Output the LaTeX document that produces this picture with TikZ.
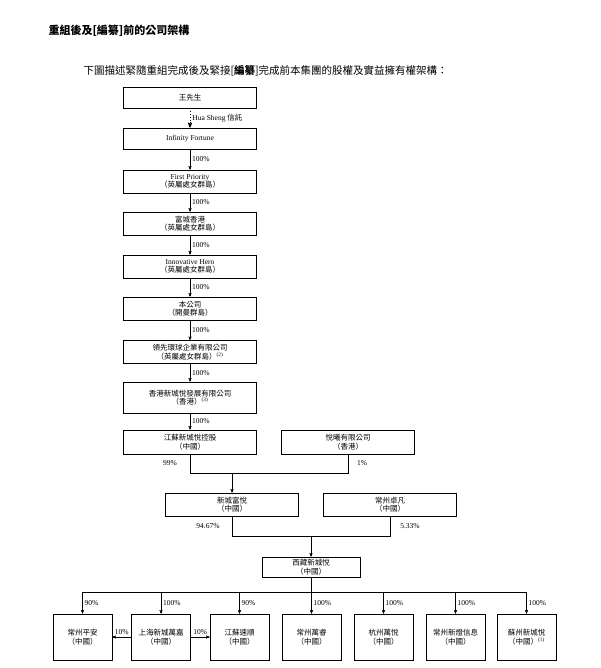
\documentclass[tikz,border=0pt]{standalone}
\usepackage{fontspec}
\setmainfont{Liberation Serif}
\newfontfamily\cjk{Noto Sans CJK TC}
\usetikzlibrary{arrows,positioning}
\newcommand{\zh}[1]{{\cjk #1}}
\newcommand{\nt}[1]{\textsuperscript{(#1)}}

\begin{document}
\begin{tikzpicture}[x=1pt,y=-1pt,>=stealth',font=\fontsize{7.5}{8.5}\selectfont,
    box/.style={draw,thick,align=center,inner sep=1pt},
    chain/.style={box,minimum width=133pt,minimum height=23pt},
    low/.style={box,minimum width=59pt,minimum height=46pt},
    pct/.style={right,inner sep=2pt}]
      \useasboundingbox (0,0) rectangle (600,668);
      \node[anchor=west,font=\fontsize{11}{13}\selectfont\bfseries] (title) at (45,31) {\zh{重組後及[編纂]前的公司架構}};
      \node[anchor=west,font=\fontsize{10.5}{12}\selectfont] (intro) at (80,71) {\zh{下圖描述緊隨重組完成後及緊接[\textbf{編纂}]完成前本集團的股權及實益擁有權架構：}};

      \node[chain,minimum height=21pt] (wang) at (190,97.5) {\zh{王先生}};
      \node[chain,minimum height=21pt] (inf) at (190,138.5) {Infinity Fortune};
      \node[chain] (fp) at (190,181.5) {First Priority\\\zh{（英屬處女群島）}};
      \node[chain] (fc) at (190,223.5) {\zh{富城香港}\\\zh{（英屬處女群島）}};
      \node[chain] (ih) at (190,266.5) {Innovative Hero\\\zh{（英屬處女群島）}};
      \node[chain] (co) at (190,308.5) {\zh{本公司}\\\zh{（開曼群島）}};
      \node[chain] (lx) at (190,352) {\zh{領先環球企業有限公司}\\\zh{（英屬處女群島）}\nt{2}};
      \node[chain,minimum height=31pt] (hk) at (190,397.5) {\zh{香港新城悅發展有限公司}\\\zh{（香港）}\nt{3}};
      \node[chain,minimum height=24pt] (js) at (190,442) {\zh{江蘇新城悅控股}\\\zh{（中國）}};
      \node[chain,minimum height=24pt] (yx) at (348,442) {\zh{悅曦有限公司}\\\zh{（香港）}};
      \node[chain] (fy) at (232,504.5) {\zh{新城富悅}\\\zh{（中國）}};
      \node[chain] (zf) at (390,504.5) {\zh{常州卓凡}\\\zh{（中國）}};
      \node[box,minimum width=98pt,minimum height=20pt] (xz) at (311,567) {\zh{西藏新城悅}\\\zh{（中國）}};

      \node[low] (pa) at (82.5,637) {\zh{常州平安}\\\zh{（中國）}};
      \node[low] (sh) at (161,637) {\zh{上海新城萬嘉}\\\zh{（中國）}};
      \node[low] (ss) at (239.5,637) {\zh{江蘇速順}\\\zh{（中國）}};
      \node[low] (wr) at (311.5,637) {\zh{常州萬睿}\\\zh{（中國）}};
      \node[low] (hz) at (383.5,637) {\zh{杭州萬悅}\\\zh{（中國）}};
      \node[low] (xd) at (455.5,637) {\zh{常州新燈信息}\\\zh{（中國）}};
      \node[low] (sz) at (526.5,637) {\zh{蘇州新城悅}\\\zh{（中國）}\nt{1}};

      \draw[->,dotted,thick] (wang) -- node[pct] {Hua Sheng \zh{信託}} (inf);
      \foreach \a/\b in {inf/fp,fp/fc,fc/ih,ih/co,co/lx,lx/hk,hk/js}
        \draw[->] (\a) -- node[pct] {100\%} (\b);

      \coordinate (j1) at (232,473);
      \draw (js) -- (js.south |- j1) -| (yx);
      \draw[->] (j1) -- (fy);
      \node (p99) at (170,463) {99\%};
      \node (p1) at (362,463) {1\%};

      \coordinate (j2) at (311,536);
      \draw (fy) -- (fy.south |- j2) -| (zf);
      \draw[->] (j2) -- (xz);
      \node (p94) at (208,526) {94.67\%};
      \node (p5) at (410,526) {5.33\%};

      \coordinate (j3) at (311,592);
      \draw (xz) -- (j3);
      \draw (pa.north |- j3) -- (sz.north |- j3);
      \foreach \n/\p in {pa/90,sh/100,ss/90,wr/100,hz/100,xd/100,sz/100}
        \draw[->] (\n.north |- j3) -- node[pct] {\p\%} (\n);

      \draw[->] (sh.west |- 0,637) -- node[above,inner sep=2pt] {10\%} (pa.east |- 0,637);
      \draw[->] (sh.east |- 0,637) -- node[above,inner sep=2pt] {10\%} (ss.west |- 0,637);
    \end{tikzpicture}
\end{document}
